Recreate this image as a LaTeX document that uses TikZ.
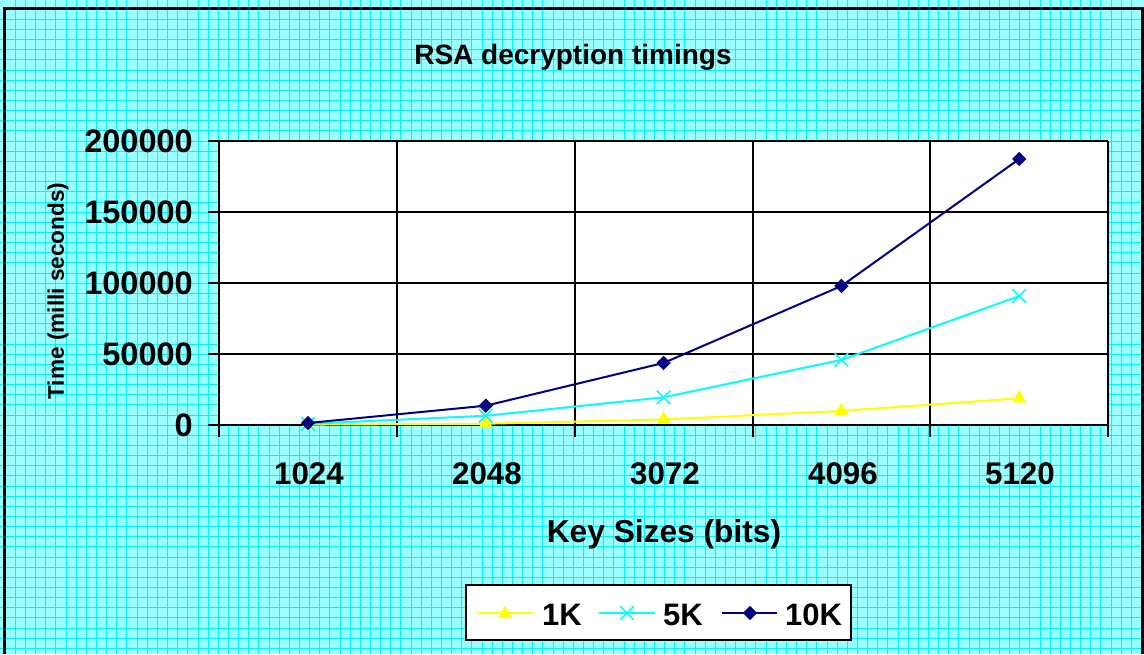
\documentclass[tikz,border=0pt]{standalone}
\usepackage{fontspec}
\setmainfont{Liberation Sans}
\usetikzlibrary{shapes.geometric,shapes.misc}
\definecolor{bg_cyan}{RGB}{155,255,255}
\definecolor{grid_cyan}{RGB}{0,245,245}
\definecolor{line_navy}{RGB}{0,0,128}
\definecolor{line_cyan}{RGB}{0,255,255}
\definecolor{line_yellow}{RGB}{255,255,0}

\begin{document}
\begin{tikzpicture}[x=1pt,y=-1pt,font=\bfseries]
    \tikzstyle{gridln}=[grid_cyan, line width=0.8pt]
    \tikzstyle{axln}=[black, line width=2pt]
    \tikzstyle{ticklbl}=[anchor=east, inner sep=0pt, font=\bfseries\fontsize{32.5}{32.5}\selectfont]
    \tikzstyle{catlbl}=[anchor=base, inner sep=0pt, font=\bfseries\fontsize{31.3}{31.3}\selectfont]
    \tikzstyle{legtxt}=[anchor=base west, inner sep=0pt, font=\bfseries\fontsize{31}{31}\selectfont]
    \tikzstyle{tri}=[regular polygon, regular polygon sides=3, fill=line_yellow, inner sep=0pt, minimum size=16.5pt]
    \tikzstyle{dia}=[diamond, fill=line_navy, inner sep=0pt, minimum size=14.5pt]
    \tikzstyle{crs}=[cross out, draw=line_cyan, line width=1.6pt, inner sep=0pt, minimum size=12pt]

    % background with its grid
    \useasboundingbox (0,0) rectangle (1144,654);
    \fill[bg_cyan] (0,0) rectangle (1144,654);
    \foreach \i in {0,...,110} \draw[gridln] ({15.3+10.145*\i},0) -- ++(0,654);
    \foreach \j in {0,...,63}  \draw[gridln] (0,{19.3+10.145*\j}) -- ++(1144,0);
    \draw[black, line width=3pt] (4.5,654) -- (4.5,8.5) -- (1142.5,8.5) -- (1142.5,654);

    \node[anchor=base, inner sep=0pt, font=\bfseries\fontsize{28}{28}\selectfont] (title) at (573,64) {RSA decryption timings};

    % plot area
    \fill[white] (219,141) rectangle (1108,425);
    \foreach \y in {141,212,283,354} \draw[axln] (208,\y) -- (1108,\y);
    \foreach \x in {397,575,753,930,1108} \draw[axln] (\x,141) -- (\x,437);
    \draw[axln] (219,141) -- (219,437);
    \draw[axln] (208,425) -- (1108,425);

    \node[ticklbl] (t0)   at (193,425) {0};
    \node[ticklbl] (t50)  at (193,354) {50000};
    \node[ticklbl] (t100) at (193,283) {100000};
    \node[ticklbl] (t150) at (193,212) {150000};
    \node[ticklbl] (t200) at (193,141) {200000};

    \node[catlbl] (k1) at (309,484)   {1024};
    \node[catlbl] (k2) at (487,484)   {2048};
    \node[catlbl] (k3) at (665,484)   {3072};
    \node[catlbl] (k4) at (843,484)   {4096};
    \node[catlbl] (k5) at (1020,484)  {5120};

    \node[catlbl, font=\bfseries\fontsize{31.7}{31.7}\selectfont] (xlab) at (664,542) {Key Sizes (bits)};
    \node[rotate=90, inner sep=0pt, font=\bfseries\fontsize{22.6}{22.6}\selectfont] (ylab) at (58,291) {Time (milli seconds)};

    % data, values in thousands
    \foreach \k/\v in {1/0.3,2/0.9,3/3.9,4/9.9,5/18.8}
        \coordinate (a\k) at ({308+177.8*(\k-1)},{425-1.42*\v});
    \foreach \k/\v in {1/0.8,2/6.5,3/19.5,4/45.8,5/90.8}
        \coordinate (b\k) at ({308+177.8*(\k-1)},{425-1.42*\v});
    \foreach \k/\v in {1/1.4,2/13.6,3/43.7,4/97.9,5/187.3}
        \coordinate (c\k) at ({308+177.8*(\k-1)},{425-1.42*\v});

    \draw[line_yellow, line width=2pt] (a1) -- (a2) -- (a3) -- (a4) -- (a5);
    \foreach \k in {1,...,5} \node[tri] (ma\k) at (a\k) {};
    \draw[line_cyan, line width=2pt] (b1) -- (b2) -- (b3) -- (b4) -- (b5);
    \foreach \k in {1,...,5} \node[crs] (mb\k) at (b\k) {};
    \draw[line_navy, line width=2pt] (c1) -- (c2) -- (c3) -- (c4) -- (c5);
    \foreach \k in {1,...,5} \node[dia] (mc\k) at (c\k) {};

    % legend
    \draw[black, line width=2pt, fill=white] (466,585) rectangle (851,640);
    \coordinate (la0) at (478,613); \coordinate (la1) at (533,613);
    \coordinate (lb0) at (599,613); \coordinate (lb1) at (655,613);
    \coordinate (lc0) at (722,613); \coordinate (lc1) at (777,613);
    \draw[line_yellow, line width=2pt] (la0) -- (la1);
    \node[tri] (lma) at (505,614) {};
    \node[legtxt] (l1k) at (542,625) {1K};
    \draw[line_cyan, line width=2pt] (lb0) -- (lb1);
    \node[crs] (lmb) at (627,613) {};
    \node[legtxt] (l5k) at (663,625) {5K};
    \draw[line_navy, line width=2pt] (lc0) -- (lc1);
    \node[dia] (lmc) at (750,613) {};
    \node[legtxt] (l10k) at (785,625) {10K};
\end{tikzpicture}
\end{document}
